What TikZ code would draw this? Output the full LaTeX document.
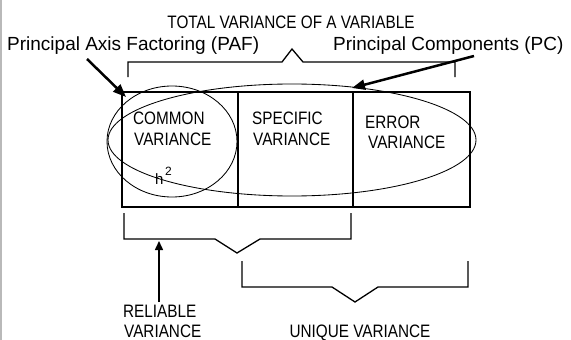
\documentclass[tikz,border=0pt]{standalone}
\usepackage{fontspec}
\setmainfont{Liberation Sans}
\newfontfamily\capsfont[FakeStretch=0.85]{Liberation Sans}
\usetikzlibrary{arrows.meta,shapes.geometric}
\tikzset{
  capslabel/.style={inner sep=0pt, font=\capsfont\fontsize{18}{21}\selectfont},
  biglabel/.style={inner sep=0pt, font=\fontsize{19}{22}\selectfont},
  cell/.style={draw, line width=1.5pt, rectangle, inner sep=0pt, anchor=north west},
  brace/.style={draw, line width=1.3pt, line join=miter},
  loop/.style={draw, ellipse, line width=0.85pt, inner sep=0pt},
  thickarrow/.style={line width=2.5pt, -{Triangle[length=13pt, width=10pt]}},
  thinarrow/.style={line width=1.5pt, -{Triangle[length=9pt, width=8pt]}},
}
\begin{document}
\begin{tikzpicture}[x=1pt, y=-1pt]
  \useasboundingbox (0,0) rectangle (571,340);
  \fill[white] (0,0) rectangle (571,340);
  % frame line on the left edge
  \draw[gray!55, line width=1.5pt] (0.75,0) -- (0.75,340);

  % the three cells of the total variance
  \node[cell, minimum width=116pt, minimum height=115pt] (common) at (121,91) {};
  \node[cell, minimum width=115pt, minimum height=115pt] (specific) at (237,91) {};
  \node[cell, minimum width=117pt, minimum height=115pt] (error) at (352,91) {};

  % cell texts
  \node[capslabel, anchor=base west] (commonA) at (133,124) {COMMON};
  \node[capslabel, anchor=base west] (commonB) at (134,145) {VARIANCE};
  \node[capslabel, anchor=base west] (specificA) at (252,124) {SPECIFIC};
  \node[capslabel, anchor=base west] (specificB) at (253,145) {VARIANCE};
  \node[capslabel, anchor=base west] (errorA) at (365,128) {ERROR};
  \node[capslabel, anchor=base west] (errorB) at (368,148) {VARIANCE};
  \node[inner sep=0pt, anchor=base west, font=\fontsize{15}{18}\selectfont] (hsq) at (155,184)
    {h\kern1.5pt\raisebox{8.5pt}{\fontsize{12}{12}\selectfont 2}};

  % variance taken by each extraction method
  \node[loop, minimum width=368pt, minimum height=112pt] (pcloop) at (292,140) {};
  \node[loop, minimum width=130pt, minimum height=111pt] (pafloop) at (172,141.5) {};

  % top brace
  \draw[brace] (128,77) -- (128,62) -- (282,62) -- (292,49) -- (303,62) -- (455,62) -- (455,77);
  \node[capslabel, anchor=base] (total) at (291,28) {TOTAL VARIANCE OF A VARIABLE};

  % method labels and their arrows
  \node[biglabel, anchor=base west] (paf) at (7,50) {Principal Axis Factoring (PAF)};
  \node[biglabel, anchor=base west] (pc) at (333,50) {Principal Components (PC)};
  \coordinate (pafTail) at (87,59);
  \coordinate (pafTip) at (126,97);
  \coordinate (pcTail) at (474,56);
  \coordinate (pcTip) at (352,88);
  \draw[thickarrow] (pafTail) -- (pafTip);
  \draw[thickarrow] (pcTail) -- (pcTip);

  % lower braces
  \draw[brace] (124,213) -- (124,239) -- (215,239) -- (237,253) -- (260,239) -- (351,239) -- (351,213);
  \draw[brace] (242,261) -- (242,287) -- (332,287) -- (355,302) -- (378,287) -- (468,287) -- (468,261);

  % reliable variance
  \node[capslabel, anchor=base west] (reliableA) at (123,317) {RELIABLE};
  \node[capslabel, anchor=base west] (reliableB) at (124,337) {VARIANCE};
  \coordinate (relTail) at (159,302);
  \coordinate (relTip) at (159,241);
  \draw[thinarrow] (relTail) -- (relTip);

  % unique variance
  \node[capslabel, anchor=base] (unique) at (360,337) {UNIQUE VARIANCE};
\end{tikzpicture}
\end{document}
